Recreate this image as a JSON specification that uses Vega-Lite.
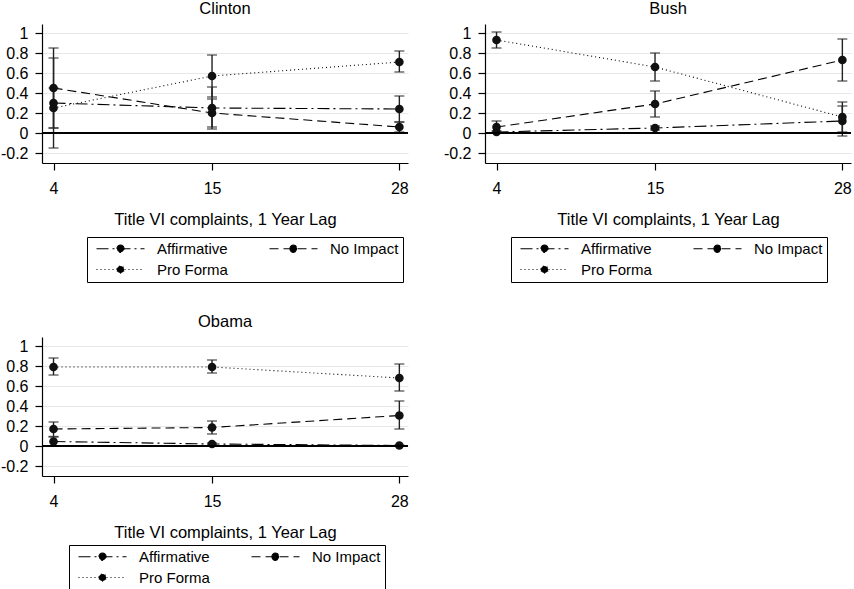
{
  "$schema": "https://vega.github.io/schema/vega-lite/v6.json",
  "background": "white",
  "padding": {"left": 0, "top": 0, "right": 0, "bottom": 0},
  "data": {
    "values": [
      {"president": "Clinton", "series": "Affirmative", "lag": 4, "est": 0.30, "lo": -0.15, "hi": 0.75},
      {"president": "Clinton", "series": "Affirmative", "lag": 15, "est": 0.25, "lo": 0.04, "hi": 0.46},
      {"president": "Clinton", "series": "Affirmative", "lag": 28, "est": 0.24, "lo": 0.11, "hi": 0.37},
      {"president": "Clinton", "series": "No Impact", "lag": 4, "est": 0.45, "lo": 0.05, "hi": 0.85},
      {"president": "Clinton", "series": "No Impact", "lag": 15, "est": 0.20, "lo": 0.06, "hi": 0.34},
      {"president": "Clinton", "series": "No Impact", "lag": 28, "est": 0.06, "lo": 0.01, "hi": 0.11},
      {"president": "Clinton", "series": "Pro Forma", "lag": 4, "est": 0.25, "lo": 0.05, "hi": 0.45},
      {"president": "Clinton", "series": "Pro Forma", "lag": 15, "est": 0.57, "lo": 0.36, "hi": 0.78},
      {"president": "Clinton", "series": "Pro Forma", "lag": 28, "est": 0.71, "lo": 0.61, "hi": 0.82},
      {"president": "Bush", "series": "Affirmative", "lag": 4, "est": 0.01, "lo": 0.0, "hi": 0.02},
      {"president": "Bush", "series": "Affirmative", "lag": 15, "est": 0.05, "lo": 0.03, "hi": 0.07},
      {"president": "Bush", "series": "Affirmative", "lag": 28, "est": 0.12, "lo": -0.03, "hi": 0.27},
      {"president": "Bush", "series": "No Impact", "lag": 4, "est": 0.06, "lo": 0.0, "hi": 0.12},
      {"president": "Bush", "series": "No Impact", "lag": 15, "est": 0.29, "lo": 0.16, "hi": 0.42},
      {"president": "Bush", "series": "No Impact", "lag": 28, "est": 0.73, "lo": 0.52, "hi": 0.94},
      {"president": "Bush", "series": "Pro Forma", "lag": 4, "est": 0.93, "lo": 0.85, "hi": 1.01},
      {"president": "Bush", "series": "Pro Forma", "lag": 15, "est": 0.66, "lo": 0.52, "hi": 0.80},
      {"president": "Bush", "series": "Pro Forma", "lag": 28, "est": 0.16, "lo": 0.01, "hi": 0.31},
      {"president": "Obama", "series": "Affirmative", "lag": 4, "est": 0.045, "lo": 0.0, "hi": 0.09},
      {"president": "Obama", "series": "Affirmative", "lag": 15, "est": 0.02, "lo": 0.01, "hi": 0.03},
      {"president": "Obama", "series": "Affirmative", "lag": 28, "est": 0.005, "lo": 0.0, "hi": 0.01},
      {"president": "Obama", "series": "No Impact", "lag": 4, "est": 0.17, "lo": 0.095, "hi": 0.24},
      {"president": "Obama", "series": "No Impact", "lag": 15, "est": 0.185, "lo": 0.12, "hi": 0.25},
      {"president": "Obama", "series": "No Impact", "lag": 28, "est": 0.305, "lo": 0.17, "hi": 0.45},
      {"president": "Obama", "series": "Pro Forma", "lag": 4, "est": 0.79, "lo": 0.71, "hi": 0.88},
      {"president": "Obama", "series": "Pro Forma", "lag": 15, "est": 0.79, "lo": 0.73, "hi": 0.86},
      {"president": "Obama", "series": "Pro Forma", "lag": 28, "est": 0.68, "lo": 0.55, "hi": 0.82}
    ]
  },
  "columns": 2,
  "spacing": {"column": 34, "row": 30},
  "concat": [
    {
      "title": "Clinton",
      "width": 366,
      "height": 139,
      "transform": [{"filter": "datum.president === 'Clinton'"}],
      "layer": [
        {
          "mark": {"type": "line", "color": "black", "strokeWidth": 1.1},
          "encoding": {
            "x": {"field": "lag", "type": "quantitative", "scale": {"domain": [3.2, 28.6], "nice": false, "zero": false},
                  "axis": {"values": [4, 15, 28], "grid": false, "title": "Title VI complaints, 1 Year Lag"}},
            "y": {"field": "est", "type": "quantitative", "title": null, "scale": {"domain": [-0.3, 1.09], "nice": false, "zero": false},
                  "axis": {"values": [-0.2, 0, 0.2, 0.4, 0.6, 0.8, 1], "labelExpr": "'' + datum.value", "labelOverlap": false, "labelSeparation": 0, "title": null}},
            "strokeDash": {"field": "series", "type": "nominal",
                  "scale": {"domain": ["Affirmative", "No Impact", "Pro Forma"], "range": [[12, 4, 2, 4], [9, 5], [1, 3]]},
                  "legend": {"orient": "none", "legendX": 45, "legendY": 213}}
          }
        },
        {
          "mark": {"type": "errorbar", "ticks": true, "size": 10, "thickness": 1.4, "color": "#222"},
          "encoding": {
            "x": {"field": "lag", "type": "quantitative"},
            "y": {"field": "lo", "type": "quantitative", "title": null,
                  "axis": {"values": [-0.2, 0, 0.2, 0.4, 0.6, 0.8, 1], "labelExpr": "'' + datum.value", "labelOverlap": false, "labelSeparation": 0, "title": null}},
            "y2": {"field": "hi"},
            "detail": {"field": "series"}
          }
        },
        {
          "mark": {"type": "circle", "size": 75, "color": "#111", "opacity": 1},
          "encoding": {
            "x": {"field": "lag", "type": "quantitative"},
            "y": {"field": "est", "type": "quantitative", "title": null,
                  "axis": {"values": [-0.2, 0, 0.2, 0.4, 0.6, 0.8, 1], "labelExpr": "'' + datum.value", "labelOverlap": false, "labelSeparation": 0, "title": null}}
          }
        },
        {
          "mark": {"type": "rule", "color": "black", "strokeWidth": 1.3},
          "encoding": {"y": {"datum": 0, "type": "quantitative", "title": null,
                  "axis": {"values": [-0.2, 0, 0.2, 0.4, 0.6, 0.8, 1], "labelExpr": "'' + datum.value", "labelOverlap": false, "labelSeparation": 0, "title": null}}}
        }
      ]
    },
    {
      "title": "Bush",
      "width": 366,
      "height": 139,
      "transform": [{"filter": "datum.president === 'Bush'"}],
      "layer": [
        {
          "mark": {"type": "line", "color": "black", "strokeWidth": 1.1},
          "encoding": {
            "x": {"field": "lag", "type": "quantitative", "scale": {"domain": [3.2, 28.6], "nice": false, "zero": false},
                  "axis": {"values": [4, 15, 28], "grid": false, "title": "Title VI complaints, 1 Year Lag"}},
            "y": {"field": "est", "type": "quantitative", "title": null, "scale": {"domain": [-0.3, 1.09], "nice": false, "zero": false},
                  "axis": {"values": [-0.2, 0, 0.2, 0.4, 0.6, 0.8, 1], "labelExpr": "'' + datum.value", "labelOverlap": false, "labelSeparation": 0, "title": null}},
            "strokeDash": {"field": "series", "type": "nominal",
                  "scale": {"domain": ["Affirmative", "No Impact", "Pro Forma"], "range": [[12, 4, 2, 4], [9, 5], [1, 3]]},
                  "legend": {"orient": "none", "legendX": 26, "legendY": 213}}
          }
        },
        {
          "mark": {"type": "errorbar", "ticks": true, "size": 10, "thickness": 1.4, "color": "#222"},
          "encoding": {
            "x": {"field": "lag", "type": "quantitative"},
            "y": {"field": "lo", "type": "quantitative", "title": null,
                  "axis": {"values": [-0.2, 0, 0.2, 0.4, 0.6, 0.8, 1], "labelExpr": "'' + datum.value", "labelOverlap": false, "labelSeparation": 0, "title": null}},
            "y2": {"field": "hi"},
            "detail": {"field": "series"}
          }
        },
        {
          "mark": {"type": "circle", "size": 75, "color": "#111", "opacity": 1},
          "encoding": {
            "x": {"field": "lag", "type": "quantitative"},
            "y": {"field": "est", "type": "quantitative", "title": null,
                  "axis": {"values": [-0.2, 0, 0.2, 0.4, 0.6, 0.8, 1], "labelExpr": "'' + datum.value", "labelOverlap": false, "labelSeparation": 0, "title": null}}
          }
        },
        {
          "mark": {"type": "rule", "color": "black", "strokeWidth": 1.3},
          "encoding": {"y": {"datum": 0, "type": "quantitative", "title": null,
                  "axis": {"values": [-0.2, 0, 0.2, 0.4, 0.6, 0.8, 1], "labelExpr": "'' + datum.value", "labelOverlap": false, "labelSeparation": 0, "title": null}}}
        }
      ]
    },
    {
      "title": "Obama",
      "width": 366,
      "height": 139,
      "transform": [{"filter": "datum.president === 'Obama'"}],
      "layer": [
        {
          "mark": {"type": "line", "color": "black", "strokeWidth": 1.1},
          "encoding": {
            "x": {"field": "lag", "type": "quantitative", "scale": {"domain": [3.2, 28.6], "nice": false, "zero": false},
                  "axis": {"values": [4, 15, 28], "grid": false, "title": "Title VI complaints, 1 Year Lag"}},
            "y": {"field": "est", "type": "quantitative", "title": null, "scale": {"domain": [-0.3, 1.09], "nice": false, "zero": false},
                  "axis": {"values": [-0.2, 0, 0.2, 0.4, 0.6, 0.8, 1], "labelExpr": "'' + datum.value", "labelOverlap": false, "labelSeparation": 0, "title": null}},
            "strokeDash": {"field": "series", "type": "nominal",
                  "scale": {"domain": ["Affirmative", "No Impact", "Pro Forma"], "range": [[12, 4, 2, 4], [9, 5], [1, 3]]},
                  "legend": {"orient": "none", "legendX": 27, "legendY": 208}}
          }
        },
        {
          "mark": {"type": "errorbar", "ticks": true, "size": 10, "thickness": 1.4, "color": "#222"},
          "encoding": {
            "x": {"field": "lag", "type": "quantitative"},
            "y": {"field": "lo", "type": "quantitative", "title": null,
                  "axis": {"values": [-0.2, 0, 0.2, 0.4, 0.6, 0.8, 1], "labelExpr": "'' + datum.value", "labelOverlap": false, "labelSeparation": 0, "title": null}},
            "y2": {"field": "hi"},
            "detail": {"field": "series"}
          }
        },
        {
          "mark": {"type": "circle", "size": 75, "color": "#111", "opacity": 1},
          "encoding": {
            "x": {"field": "lag", "type": "quantitative"},
            "y": {"field": "est", "type": "quantitative", "title": null,
                  "axis": {"values": [-0.2, 0, 0.2, 0.4, 0.6, 0.8, 1], "labelExpr": "'' + datum.value", "labelOverlap": false, "labelSeparation": 0, "title": null}}
          }
        },
        {
          "mark": {"type": "rule", "color": "black", "strokeWidth": 1.3},
          "encoding": {"y": {"datum": 0, "type": "quantitative", "title": null,
                  "axis": {"values": [-0.2, 0, 0.2, 0.4, 0.6, 0.8, 1], "labelExpr": "'' + datum.value", "labelOverlap": false, "labelSeparation": 0, "title": null}}}
        }
      ]
    }
  ],
  "resolve": {"scale": {"strokeDash": "independent"}, "legend": {"strokeDash": "independent"}},
  "config": {
    "font": "Liberation Sans",
    "view": {"stroke": null},
    "title": {"fontSize": 16.5, "fontWeight": "normal", "color": "black", "anchor": "middle", "offset": 7},
    "axis": {
      "domainColor": "black",
      "domainWidth": 1.2,
      "tickColor": "black",
      "tickWidth": 1.2,
      "tickSize": 7,
      "labelColor": "black",
      "labelFontSize": 16,
      "labelOverlap": false,
      "titleColor": "black",
      "titleFontSize": 16.5,
      "titleFontWeight": "normal",
      "gridColor": "#e8e8e8",
      "gridWidth": 1.2
    },
    "axisX": {"labelPadding": 10, "titlePadding": 15},
    "axisY": {"labelPadding": 7},
    "legend": {
      "title": null,
      "columns": 2,
      "direction": "horizontal",
      "symbolType": "M-4,0H4M-0.6,0A0.6,0.6 0 1,1 0.6,0A0.6,0.6 0 1,1 -0.6,0",
      "symbolSize": 144,
      "symbolOffset": 22,
      "symbolStrokeColor": "black",
      "symbolFillColor": "black",
      "symbolStrokeWidth": 1.1,
      "labelFontSize": 15,
      "labelColor": "black",
      "labelOffset": 29,
      "columnPadding": 36,
      "rowPadding": 5,
      "padding": 4,
      "strokeColor": "black",
      "fillColor": "white",
      "cornerRadius": 0
    }
  }
}
